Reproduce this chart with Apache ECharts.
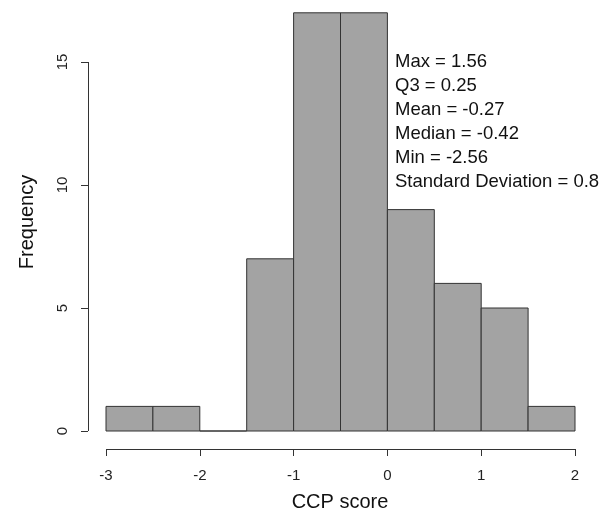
<!DOCTYPE html>
<html>
<head>
<meta charset="utf-8">
<script src="https://cdn.jsdelivr.net/npm/echarts@6/dist/echarts.min.js"></script>
<style>
html,body{margin:0;padding:0;background:#fff;}
#chart{width:601px;height:520px;}
</style>
</head>
<body>
<div id="chart"></div>
<script>
// Histogram bins (width 0.5) and counts
const binStarts = [-3, -2.5, -2, -1.5, -1, -0.5, 0, 0.5, 1, 1.5];
const binEnds   = [-2.5, -2, -1.5, -1, -0.5, 0, 0.5, 1, 1.5, 2];
const counts    = [1, 1, 0, 7, 17, 17, 9, 6, 5, 1];
const xTicks = [-3, -2, -1, 0, 1, 2];
const yTicks = [0, 5, 10, 15];
const statsLines = [
  'Max = 1.56',
  'Q3 = 0.25',
  'Mean = -0.27',
  'Median = -0.42',
  'Min = -2.56',
  'Standard Deviation = 0.8'
];

const FONT = '"Liberation Sans", Arial, Helvetica, sans-serif';
const AXIS_OFFSET = 18;
const data = binStarts.map((s, i) => [s, binEnds[i], counts[i]]);

const chart = echarts.init(document.getElementById('chart'), null, {renderer: 'canvas'});
chart.setOption({
  animation: false,
  backgroundColor: '#ffffff',
  grid: {left: 106, right: 26, top: 62, bottom: 89, containLabel: false},
  xAxis: {
    type: 'value', min: xTicks[0], max: xTicks[xTicks.length - 1], interval: 1, offset: AXIS_OFFSET,
    axisLine: {show: false, onZero: false},
    axisTick: {show: true, length: 7, inside: false, lineStyle: {color: '#333'}},
    axisLabel: {show: true, color: '#222', fontSize: 15, fontFamily: FONT, margin: 19,
      showMinLabel: true, showMaxLabel: true, formatter: v => String(v)},
    splitLine: {show: false}
  },
  yAxis: {
    type: 'value', min: yTicks[0], max: yTicks[yTicks.length - 1], interval: 5, offset: AXIS_OFFSET,
    axisLine: {show: false, onZero: false},
    axisTick: {show: true, length: 7, inside: false, lineStyle: {color: '#333'}},
    axisLabel: {show: true, color: '#222', fontSize: 15, fontFamily: FONT, margin: 18, rotate: 90},
    splitLine: {show: false}
  },
  series: [{
    type: 'custom',
    clip: false,
    data: data,
    renderItem: function (params, api) {
      const p0 = api.coord([api.value(0), 0]);
      const p1 = api.coord([api.value(1), api.value(2)]);
      return {
        type: 'rect',
        shape: {x: p0[0], y: p1[1], width: p1[0] - p0[0], height: p0[1] - p1[1]},
        style: {fill: '#a3a3a3', stroke: '#333', lineWidth: 1}
      };
    }
  }, {
    // R-style detached axis lines spanning first to last tick
    type: 'custom',
    clip: false,
    silent: true,
    data: [[0]],
    renderItem: function (params, api) {
      const xa = api.coord([xTicks[0], yTicks[0]]);
      const xb = api.coord([xTicks[xTicks.length - 1], yTicks[0]]);
      const ya = api.coord([xTicks[0], yTicks[0]]);
      const yb = api.coord([xTicks[0], yTicks[yTicks.length - 1]]);
      const yLine = Math.round(xa[1] + AXIS_OFFSET) + 0.5;
      const xLine = Math.round(ya[0] - AXIS_OFFSET) + 0.5;
      return {
        type: 'group',
        children: [
          {type: 'line', shape: {x1: xa[0], y1: yLine, x2: xb[0], y2: yLine},
            style: {stroke: '#333', lineWidth: 1}},
          {type: 'line', shape: {x1: xLine, y1: ya[1], x2: xLine, y2: yb[1]},
            style: {stroke: '#333', lineWidth: 1}}
        ]
      };
    }
  }],
  graphic: [
    {type: 'text', x: 340, y: 502,
      style: {text: 'CCP score', font: '20px ' + FONT, fill: '#111', textAlign: 'center', textVerticalAlign: 'middle'}},
    {type: 'text', rotation: Math.PI / 2, x: 27, y: 222,
      style: {text: 'Frequency', font: '20px ' + FONT, fill: '#111', textAlign: 'center', textVerticalAlign: 'middle'}},
    {type: 'text', x: 395, y: 50,
      style: {text: statsLines.join('\n'), font: '18.5px ' + FONT, fill: '#111', lineHeight: 24,
        textAlign: 'left', textVerticalAlign: 'top'}}
  ]
});
</script>
</body>
</html>
